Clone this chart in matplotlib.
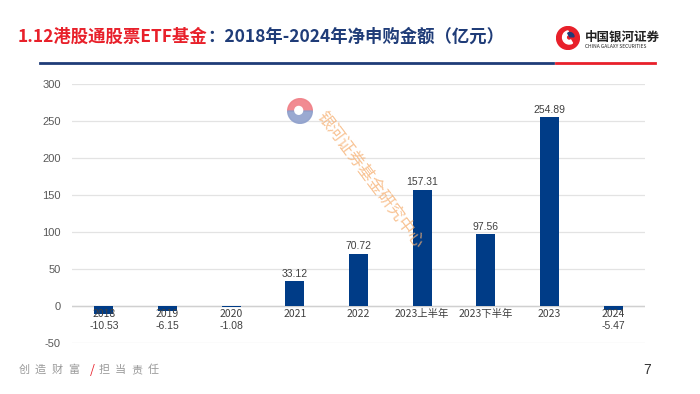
import numpy as np
import matplotlib.pyplot as plt
from matplotlib.patches import Wedge, Circle

plt.rcParams['font.family'] = ['Noto Sans CJK SC', 'DejaVu Sans']

categories = ['2018', '2019', '2020', '2021', '2022', '2023上半年', '2023下半年', '2023', '2024']
values = [-10.53, -6.15, -1.08, 33.12, 70.72, 157.31, 97.56, 254.89, -5.47]
yticks = [-50, 0, 50, 100, 150, 200, 250, 300]

bar_color = '#003C87'
navy = '#1F3C78'
red = '#E8202A'

fig = plt.figure(figsize=(7, 3.94), dpi=100)
ax = fig.add_axes([72 / 700, 51 / 394, 573 / 700, 259 / 394])

x = np.arange(len(categories))
ax.bar(x, values, width=0.3, color=bar_color, zorder=3)

ax.set_xlim(-0.5, len(categories) - 0.5)
ax.set_ylim(-50, 300)
ax.set_yticks(yticks)
ax.set_yticklabels([str(t) for t in yticks], fontsize=8, color='#595959', family='Liberation Sans')
ax.tick_params(axis='y', length=0, pad=8)
ax.set_xticks([])
ax.grid(axis='y', color='#E3E3E3', linewidth=0.9, zorder=0)
ax.axhline(0, color='#D0D0D0', linewidth=1, zorder=2)
for s in ax.spines.values():
    s.set_visible(False)

# category labels just under the zero line, value labels above / below
for xi, cat, v in zip(x, categories, values):
    ax.text(xi, -4, cat, ha='center', va='top', fontsize=7.5, color='#404040')
    if v >= 0:
        ax.text(xi, v + 3, f'{v:.2f}', ha='center', va='bottom', fontsize=7.5, color='#404040',
                family='Liberation Sans')
    else:
        ax.text(xi, -20, f'{v:.2f}', ha='center', va='top', fontsize=7.5, color='#404040',
                family='Liberation Sans')

# header: red part followed directly by the navy part
t1 = fig.text(18 / 700, 1 - 37 / 394, '1.12港股通股票ETF基金', color=red, fontsize=12.5,
              fontweight='bold', va='center', ha='left')
fig.canvas.draw()
bb = t1.get_window_extent()
fig.text(bb.x1 / fig.bbox.width, 1 - 37 / 394, '：2018年-2024年净申购金额（亿元）', color=navy,
         fontsize=12.5, fontweight='bold', va='center', ha='left')
fig.add_artist(plt.Line2D([40 / 700, 553 / 700], [1 - 63 / 394] * 2, color=navy, linewidth=2))
fig.add_artist(plt.Line2D([556 / 700, 655 / 700], [1 - 63 / 394] * 2, color=red, linewidth=2))

# logo
lax = fig.add_axes([556 / 700, 1 - 50 / 394, 24 / 700, 24 / 394])
lax.set_xlim(-1, 1)
lax.set_ylim(-1, 1)
lax.set_aspect('equal')
lax.axis('off')
lax.add_patch(Circle((0, 0), 0.95, color=red))
lax.add_patch(Wedge((0.1, 0.05), 0.55, 100, 300, width=0.3, color='white'))
lax.add_patch(Wedge((0.15, 0.1), 0.35, 0, 120, color=navy))
fig.text(585 / 700, 1 - 37 / 394, '中国银河证券', color='#222222', fontsize=9, fontweight='bold',
         va='center', ha='left')
fig.text(585 / 700, 1 - 46 / 394, 'CHINA GALAXY SECURITIES', color='#222222', fontsize=3.5,
         va='center', ha='left')

# watermark
wax = fig.add_axes([287 / 700, 1 - 124 / 394, 26 / 700, 26 / 394])
wax.set_xlim(-1, 1)
wax.set_ylim(-1, 1)
wax.set_aspect('equal')
wax.axis('off')
wax.add_patch(Wedge((0, 0), 0.95, 0, 180, color='#F07F86', alpha=0.9))
wax.add_patch(Wedge((0, 0), 0.95, 180, 360, color='#8FA0CC', alpha=0.9))
wax.add_patch(Circle((-0.1, 0.05), 0.3, color='white'))
fig.text(370 / 700, 1 - 180 / 394, '银河证券基金研究中心', color='#F6B072', alpha=0.75,
         fontsize=12, rotation=-53, ha='center', va='center')

# footer, spaced characters
for i, ch in enumerate('创造财富'):
    fig.text((24 + 16.5 * i) / 700, 1 - 370 / 394, ch, color='#9A9A9A', fontsize=8,
             va='center', ha='center')
fig.text(92 / 700, 1 - 370 / 394, '/', color=red, fontsize=9, va='center', ha='center',
         style='italic')
for i, ch in enumerate('担当责任'):
    fig.text((104 + 16.5 * i) / 700, 1 - 370 / 394, ch, color='#9A9A9A', fontsize=8,
             va='center', ha='center')
fig.text(643 / 700, 1 - 370 / 394, '7', color='#333333', fontsize=10, va='center',
         family='Liberation Sans')

fig.savefig('out.png', dpi=100)
